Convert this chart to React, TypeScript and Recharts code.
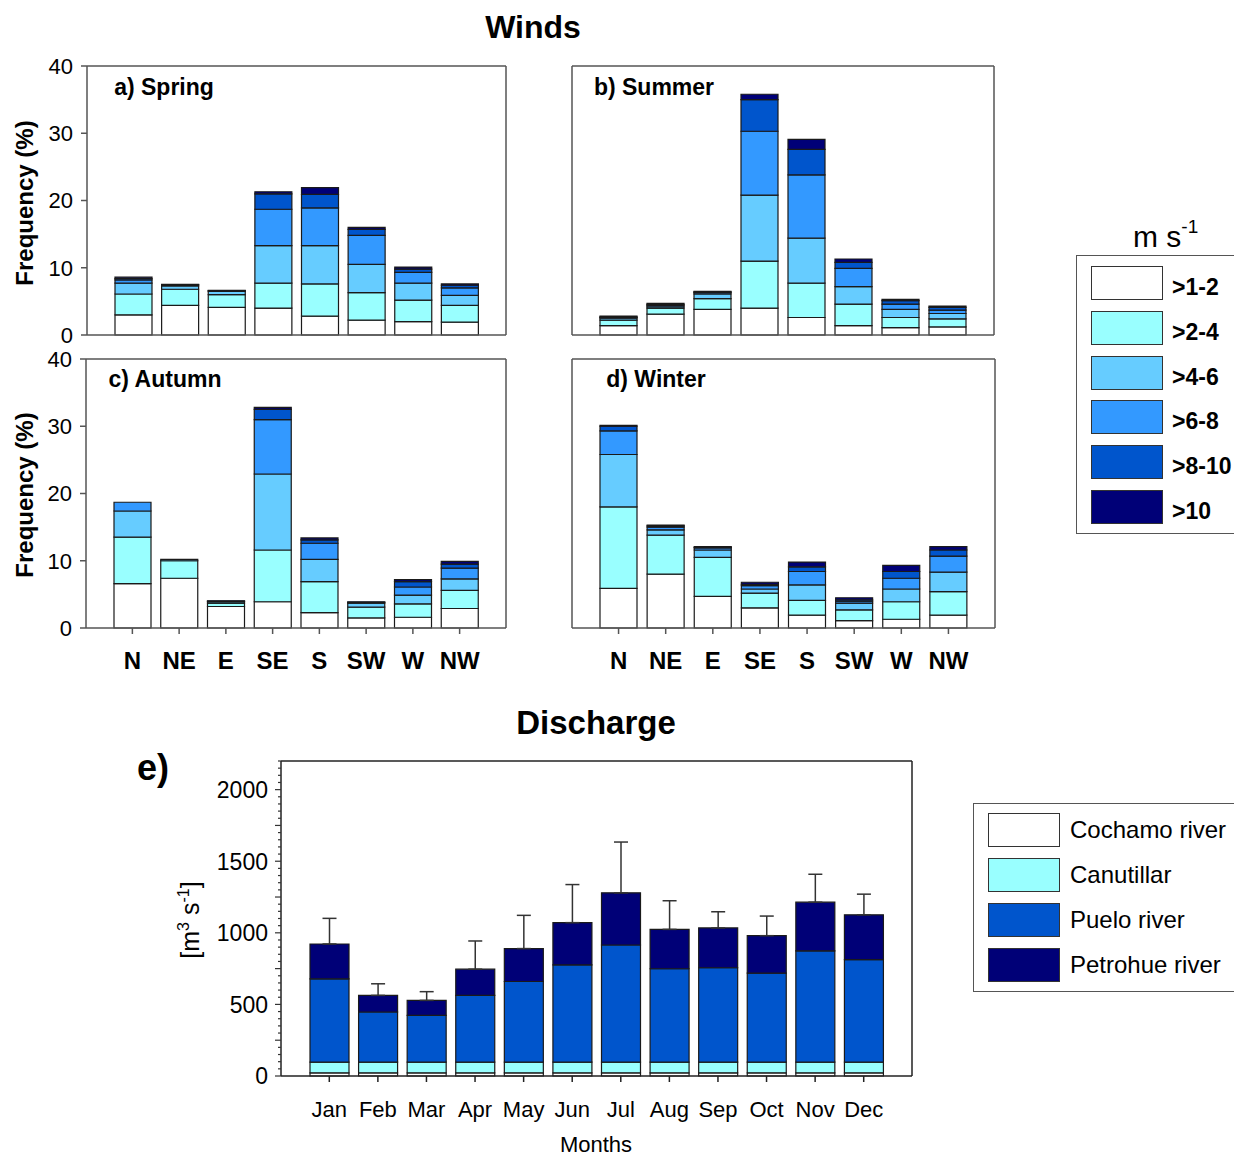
import React from 'react'
import { BarChart, Bar, XAxis, YAxis, ErrorBar } from 'recharts'

const FONT = '"Liberation Sans", Arial, sans-serif'

// wind roses, frequency (%) per speed class (rows) and direction (cols)
const directions = ['N', 'NE', 'E', 'SE', 'S', 'SW', 'W', 'NW']
const speedClasses = ['>1-2', '>2-4', '>4-6', '>6-8', '>8-10', '>10']
const speedColors = ['#ffffff', '#99ffff', '#66ccff', '#3399ff', '#0055cc', '#000077']
const windTicks = [0, 10, 20, 30, 40]

const springFreq = [
  [3.0, 4.4, 4.1, 4.0, 2.8, 2.2, 2.0, 1.9],
  [3.1, 2.4, 1.9, 3.7, 4.8, 4.1, 3.2, 2.5],
  [1.6, 0.5, 0.5, 5.6, 5.7, 4.2, 2.5, 1.5],
  [0.5, 0.2, 0.1, 5.4, 5.6, 4.3, 1.6, 1.1],
  [0.2, 0.05, 0.05, 2.3, 2.0, 0.9, 0.5, 0.4],
  [0.2, 0, 0, 0.3, 1.0, 0.3, 0.3, 0.2],
]
const summerFreq = [
  [1.4, 3.1, 3.8, 4.0, 2.6, 1.4, 1.1, 1.2],
  [0.8, 0.9, 1.6, 7.0, 5.1, 3.2, 1.5, 1.2],
  [0.3, 0.2, 0.7, 9.8, 6.7, 2.6, 1.2, 0.8],
  [0.1, 0.2, 0.2, 9.5, 9.4, 2.7, 0.8, 0.5],
  [0.1, 0.15, 0.1, 4.7, 3.8, 0.9, 0.5, 0.4],
  [0.1, 0.15, 0.1, 0.8, 1.5, 0.5, 0.2, 0.2],
]
const autumnFreq = [
  [6.6, 7.4, 3.2, 3.9, 2.3, 1.5, 1.6, 2.9],
  [6.9, 2.6, 0.5, 7.7, 4.6, 1.6, 2.0, 2.7],
  [3.9, 0.2, 0.2, 11.3, 3.3, 0.6, 1.3, 1.7],
  [1.3, 0, 0.1, 8.1, 2.4, 0.1, 1.2, 1.6],
  [0, 0, 0.05, 1.5, 0.5, 0.1, 0.8, 0.6],
  [0, 0, 0, 0.3, 0.3, 0, 0.3, 0.4],
]
const winterFreq = [
  [5.9, 8.0, 4.7, 3.0, 1.9, 1.1, 1.3, 1.9],
  [12.1, 5.8, 5.8, 2.2, 2.2, 1.6, 2.6, 3.5],
  [7.8, 0.8, 1.1, 0.6, 2.3, 1.0, 1.9, 2.9],
  [3.5, 0.4, 0.3, 0.5, 2.0, 0.3, 1.6, 2.4],
  [0.7, 0.2, 0.1, 0.2, 0.7, 0.2, 1.0, 0.9],
  [0.15, 0.1, 0.1, 0.3, 0.7, 0.3, 0.9, 0.5],
]

// discharge, m3/s
const months = ['Jan', 'Feb', 'Mar', 'Apr', 'May', 'Jun', 'Jul', 'Aug', 'Sep', 'Oct', 'Nov', 'Dec']
const cochamo = [22, 22, 22, 22, 22, 22, 22, 22, 22, 22, 22, 22]
const canutillar = [75, 75, 75, 75, 75, 75, 75, 75, 75, 75, 75, 75]
const puelo = [582, 350, 327, 466, 563, 679, 818, 652, 659, 621, 777, 716]
const petrohue = [243, 116, 104, 183, 230, 295, 364, 275, 278, 262, 340, 313]
const totalSd = [179, 81, 61, 197, 232, 266, 355, 200, 113, 137, 195, 144]
const riverNames = ['Cochamo river', 'Canutillar', 'Puelo river', 'Petrohue river']
const riverColors = ['#ffffff', '#99ffff', '#0055cc', '#000077']
const dischargeLabels = [0, 500, 1000, 1500, 2000]
const dischargeTicks = Array.from({ length: 45 }, (_, i) => i * 50)

function windTable(freq: number[][]) {
  return directions.map((dir, i) => {
    const row: Record<string, any> = { dir }
    speedClasses.forEach((_, k) => {
      row['s' + k] = freq[k][i]
    })
    return row
  })
}

const dischargeTable = months.map((month, i) => ({
  month,
  cochamo: cochamo[i],
  canutillar: canutillar[i],
  puelo: puelo[i],
  petrohue: petrohue[i],
  sd: [0, totalSd[i]],
}))

function Label({ x, y, size, bold, children, rotate }: any) {
  return (
    <div
      style={{
        position: 'absolute',
        left: x,
        top: y,
        transform: `translate(-50%, -50%)${rotate ? ' rotate(-90deg)' : ''}`,
        fontSize: size,
        fontWeight: bold ? 'bold' : 'normal',
        lineHeight: 1,
        whiteSpace: 'nowrap',
        fontFamily: FONT,
        color: '#000',
      }}
    >
      {children}
    </div>
  )
}

const frame = { stroke: '#555', strokeWidth: 1.5 }

function WindPanel({ freq, x0, y0, pw, ph, yLabels, xLabels }: any) {
  const data = windTable(freq)
  return (
    <div style={{ position: 'absolute', left: x0 - 75, top: y0 - 15 }}>
      <BarChart
        width={pw + 90}
        height={ph + 75}
        data={data}
        margin={{ top: 5, right: 5, bottom: 5, left: 5 }}
        barSize={37}
      >
        <XAxis
          xAxisId="b"
          dataKey="dir"
          padding={{ left: 23, right: 23 }}
          height={55}
          interval={0}
          axisLine={frame}
          tickLine={frame}
          tickSize={6}
          tickMargin={18}
          tick={xLabels ? { fill: '#000', fontSize: 24, fontWeight: 'bold', fontFamily: FONT } : false}
        />
        <XAxis
          xAxisId="t"
          dataKey="dir"
          orientation="top"
          padding={{ left: 23, right: 23 }}
          height={10}
          interval={0}
          axisLine={frame}
          tickLine={frame}
          tickSize={6}
          tick={false}
        />
        <YAxis
          yAxisId="l"
          domain={[0, 40]}
          ticks={windTicks}
          width={70}
          interval={0}
          axisLine={frame}
          tickLine={frame}
          tickSize={6}
          tickMargin={8}
          tick={yLabels ? { fill: '#000', fontSize: 22, fontFamily: FONT } : false}
        />
        <YAxis
          yAxisId="r"
          orientation="right"
          domain={[0, 40]}
          ticks={windTicks}
          width={10}
          interval={0}
          axisLine={frame}
          tickLine={frame}
          tickSize={6}
          tick={false}
        />
        {speedClasses.map((c, k) => (
          <Bar
            key={c}
            xAxisId="b"
            yAxisId="l"
            dataKey={'s' + k}
            stackId="w"
            fill={speedColors[k]}
            stroke="#1a1a1a"
            strokeWidth={1.2}
            isAnimationActive={false}
          />
        ))}
      </BarChart>
    </div>
  )
}

function LeftTick({ x, y, payload }: any) {
  const v = payload.value
  const len = v % 250 === 0 ? 6 : 3
  return (
    <g>
      <line x1={x} x2={x - len} y1={y} y2={y} stroke="#333" strokeWidth={1.2} />
      {dischargeLabels.includes(v) && (
        <text x={x - 13} y={y} dy="0.36em" textAnchor="end" fontSize={23} fontFamily={FONT} fill="#000">
          {v}
        </text>
      )}
    </g>
  )
}

function RightTick({ x, y, payload }: any) {
  const v = payload.value
  const len = v % 250 === 0 ? 6 : 3
  return <line x1={x} x2={x + len} y1={y} y2={y} stroke="#333" strokeWidth={1.2} />
}

function DischargeChart() {
  const dframe = { stroke: '#222', strokeWidth: 1.5 }
  return (
    <div style={{ position: 'absolute', left: 281 - 125, top: 761 - 15 }}>
      <BarChart
        width={631 + 150}
        height={315 + 105}
        data={dischargeTable}
        margin={{ top: 5, right: 5, bottom: 5, left: 5 }}
        barSize={39}
      >
        <XAxis
          xAxisId="b"
          dataKey="month"
          padding={{ left: 24, right: 24 }}
          height={85}
          interval={0}
          axisLine={dframe}
          tickLine={dframe}
          tickSize={6}
          tickMargin={19}
          tick={{ fill: '#000', fontSize: 22, fontFamily: FONT }}
        />
        <XAxis xAxisId="t" dataKey="month" orientation="top" height={10} axisLine={dframe} tickLine={false} tick={false} />
        <YAxis
          yAxisId="l"
          domain={[0, 2200]}
          ticks={dischargeTicks}
          width={120}
          interval={0}
          axisLine={dframe}
          tickLine={false}
          tickSize={0}
          tickMargin={0}
          tick={LeftTick}
        />
        <YAxis
          yAxisId="r"
          orientation="right"
          domain={[0, 2200]}
          ticks={dischargeTicks}
          width={20}
          interval={0}
          axisLine={dframe}
          tickLine={false}
          tickSize={0}
          tickMargin={0}
          tick={RightTick}
        />
        {['cochamo', 'canutillar', 'puelo', 'petrohue'].map((key, k) => (
          <Bar
            key={key}
            xAxisId="b"
            yAxisId="l"
            dataKey={key}
            stackId="d"
            fill={riverColors[k]}
            stroke="#1a1a1a"
            strokeWidth={1.2}
            isAnimationActive={false}
          >
            {key === 'petrohue' && (
              <ErrorBar dataKey="sd" direction="y" width={7} stroke="#333" strokeWidth={1.5} />
            )}
          </Bar>
        ))}
      </BarChart>
    </div>
  )
}

function LegendBox({ left, top, height, names, colors, rowTop, step, swH, textLeft, size, bold }: any) {
  return (
    <div
      style={{
        position: 'absolute',
        left,
        top,
        width: 300,
        height,
        border: '1.5px solid #555',
        boxSizing: 'border-box',
        fontFamily: FONT,
      }}
    >
      {names.map((n: string, k: number) => (
        <React.Fragment key={n}>
          <div
            style={{
              position: 'absolute',
              left: 14,
              top: rowTop + k * step,
              width: 72,
              height: swH,
              background: colors[k],
              border: '1.5px solid #333',
              boxSizing: 'border-box',
            }}
          />
          <div
            style={{
              position: 'absolute',
              left: textLeft,
              top: rowTop + k * step + swH / 2 + (bold ? 4 : 0),
              transform: 'translateY(-50%)',
              fontSize: size,
              fontWeight: bold ? 'bold' : 'normal',
              lineHeight: 1,
              whiteSpace: 'nowrap',
              color: '#000',
            }}
          >
            {n}
          </div>
        </React.Fragment>
      ))}
    </div>
  )
}

export default function App() {
  return (
    <div
      style={{
        position: 'absolute',
        left: 0,
        top: 0,
        width: 1234,
        height: 1157,
        overflow: 'hidden',
        background: '#fff',
        fontFamily: FONT,
      }}
    >
      <Label x={533} y={27} size={32} bold>Winds</Label>

      <WindPanel freq={springFreq} x0={87} y0={66} pw={419} ph={269} yLabels xLabels={false} />
      <WindPanel freq={summerFreq} x0={572} y0={66} pw={422} ph={269} yLabels={false} xLabels={false} />
      <WindPanel freq={autumnFreq} x0={86} y0={359} pw={420} ph={269} yLabels xLabels />
      <WindPanel freq={winterFreq} x0={572} y0={359} pw={423} ph={269} yLabels={false} xLabels />

      <Label x={164} y={87} size={23} bold>a) Spring</Label>
      <Label x={654} y={87} size={23} bold>b) Summer</Label>
      <Label x={165} y={379} size={23} bold>c) Autumn</Label>
      <Label x={656} y={379} size={23} bold>d) Winter</Label>
      <Label x={25} y={203} size={24} bold rotate>Frequency (%)</Label>
      <Label x={25} y={495} size={24} bold rotate>Frequency (%)</Label>

      <div style={{ position: 'absolute', left: 1133, top: 222, fontSize: 30, lineHeight: '30px', color: '#000' }}>
        m s<sup style={{ fontSize: 19, verticalAlign: 0, position: 'relative', top: -14 }}>-1</sup>
      </div>
      <LegendBox
        left={1076}
        top={255}
        height={279}
        names={speedClasses}
        colors={speedColors}
        rowTop={10}
        step={44.8}
        swH={34}
        textLeft={95}
        size={23}
        bold
      />

      <Label x={596} y={722} size={33} bold>Discharge</Label>
      <Label x={153} y={768} size={36} bold>e)</Label>
      <DischargeChart />
      <Label x={190} y={920} size={25} rotate>
        [m<sup style={{ fontSize: 16, verticalAlign: 0, position: 'relative', top: -10 }}>3</sup> s
        <sup style={{ fontSize: 16, verticalAlign: 0, position: 'relative', top: -10 }}>-1</sup>]
      </Label>
      <Label x={596} y={1145} size={22}>Months</Label>
      <LegendBox
        left={973}
        top={803}
        height={189}
        names={riverNames}
        colors={riverColors}
        rowTop={9}
        step={45}
        swH={34}
        textLeft={96}
        size={24}
        bold={false}
      />
    </div>
  )
}
